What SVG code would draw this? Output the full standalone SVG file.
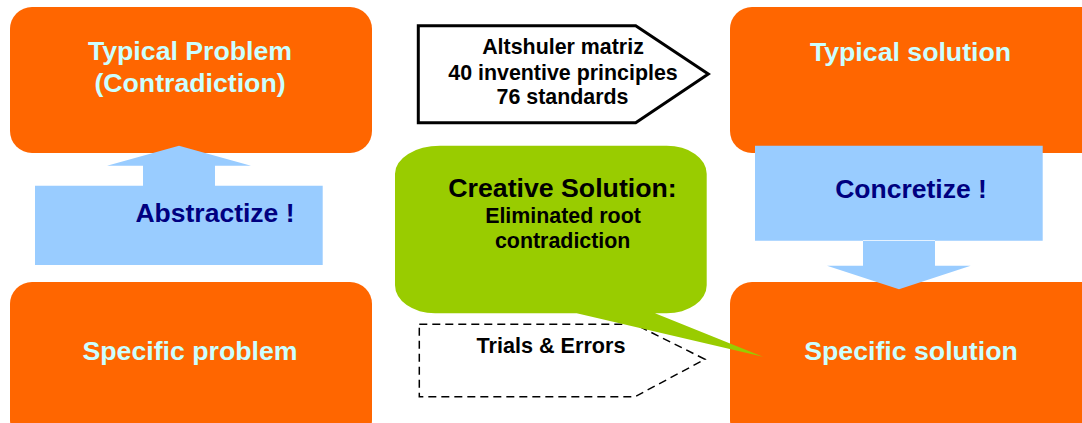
<svg xmlns="http://www.w3.org/2000/svg" width="1082" height="423" viewBox="0 0 1082 423">
<style>
.box{fill:#FF6600}
.arr{fill:#99CCFF}
.wt{font-family:"Liberation Sans",Arial,sans-serif;font-weight:bold;fill:#CCFFFF;text-anchor:middle}
.nv{font-family:"Liberation Sans",Arial,sans-serif;font-weight:bold;fill:#000080;text-anchor:middle}
.bk{font-family:"Liberation Sans",Arial,sans-serif;font-weight:bold;fill:#000000;text-anchor:middle}
</style>
<rect width="1082" height="423" fill="#FFFFFF"/>
<g id="typical-problem">
<rect class="box" x="10" y="7" width="362" height="146" rx="22" ry="22"/>
<text class="wt" x="190" y="60" font-size="26.7">Typical Problem</text>
<text class="wt" x="190" y="92" font-size="26.7">(Contradiction)</text>
</g>
<g id="specific-problem">
<rect class="box" x="10" y="282" width="362" height="160" rx="22" ry="22"/>
<text class="wt" x="190" y="360" font-size="26.7">Specific problem</text>
</g>
<g id="typical-solution">
<rect class="box" x="730" y="7" width="372" height="146" rx="22" ry="22"/>
<text class="wt" x="910.5" y="61" font-size="26.7">Typical solution</text>
</g>
<g id="specific-solution">
<rect class="box" x="730" y="282" width="372" height="160" rx="22" ry="22"/>
<text class="wt" x="911" y="360" font-size="26.7">Specific solution</text>
</g>
<g id="connectors">
<g id="abstractize">
<path class="arr" d="M35,185.7 H322.7 V265 H35 Z M143,186 V165.7 H107 L179,145.7 L251,165.7 H215 V186 Z"/>
<text class="nv" x="215" y="221.5" font-size="26.5">Abstractize !</text>
</g>
<g id="concretize">
<path class="arr" d="M755,145.7 H1042.7 V240.7 H755 Z M863,240 V265.7 H827 L899,289.3 L970.7,265.7 H935 V240 Z"/>
<text class="nv" x="911" y="197.7" font-size="26.5">Concretize !</text>
</g>
<g id="altshuler">
<polygon points="418.3,25.7 635.7,25.7 708.3,74 635.7,122.7 418.3,122.7" fill="#FFFFFF" stroke="#000000" stroke-width="3"/>
<text class="bk" x="563" y="54.3" font-size="21.4">Altshuler matriz</text>
<text class="bk" x="563" y="79.5" font-size="21.4">40 inventive principles</text>
<text class="bk" x="562.5" y="104.3" font-size="21.4">76 standards</text>
</g>
<g id="trials">
<polygon points="419.3,324.3 635,324.3 705,359.3 635,396.7 419.3,396.7" fill="none" stroke="#000000" stroke-width="1.5" stroke-dasharray="8,5"/>
<text class="bk" x="551" y="353.3" font-size="21.6">Trials &amp; Errors</text>
</g>
</g>
<g id="creative-solution">
<path d="M440,145.7 H666.7 A40,28 0 0 1 706.7,173.7 V285.3 A40,28 0 0 1 666.7,313.3 H655 L763,356.7 L576.7,313.3 H435 A40,28 0 0 1 395,285.3 V173.7 A45,28 0 0 1 440,145.7 Z" fill="#99CC00"/>
<text class="bk" x="562.5" y="196.7" font-size="26.7">Creative Solution:</text>
<text class="bk" x="563" y="222.7" font-size="21.4">Eliminated root</text>
<text class="bk" x="562.7" y="248.3" font-size="21.4">contradiction</text>
</g>
</svg>
